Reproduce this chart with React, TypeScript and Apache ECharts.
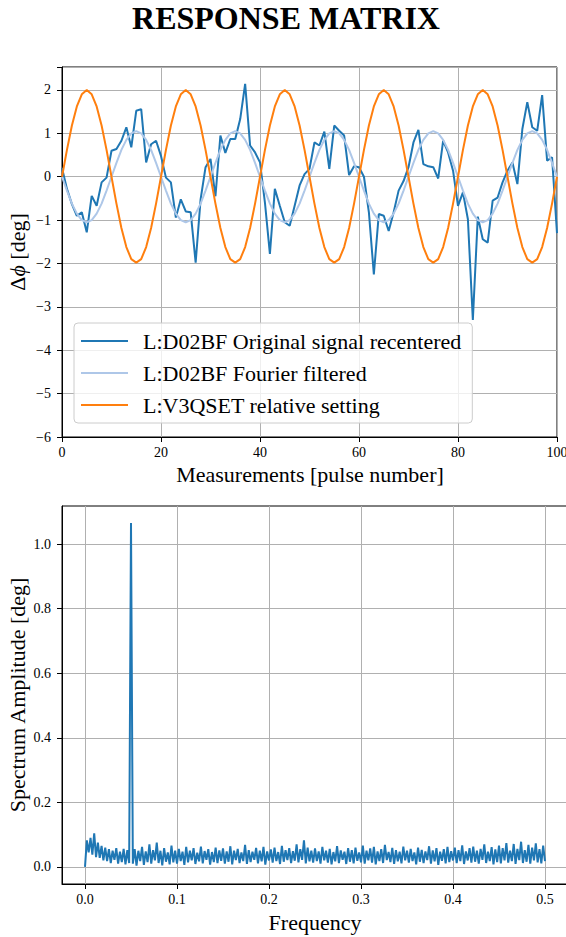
import React, { useEffect, useRef } from "react";
import * as echarts from "echarts";

const FONT = "Liberation Serif";

const TITLE = "RESPONSE MATRIX";
const SERIES_NAMES = [
  "L:D02BF Original signal recentered",
  "L:D02BF Fourier filtered",
  "L:V3QSET relative setting",
];

// Top panel: one value per pulse number 0..100
const ORIGINAL = [
  0.2, -0.28, -0.63, -0.9, -0.82, -1.28, -0.44, -0.67, -0.13, -0.02,
  0.6, 0.64, 0.83, 1.14, 0.68, 1.52, 1.56, 0.33, 0.75, 0.83,
  0.48, -0.02, -0.13, -0.94, -0.52, -0.8, -0.82, -1.98, -0.52, 0.22,
  0.41, -0.45, 0.95, 0.55, 0.87, 0.87, 1.33, 2.14, 0.72, 0.56,
  0.33, -0.6, -1.78, -0.28, -0.67, -1.05, -1.13, -0.67, -0.2, 0.06,
  0.18, 0.79, 0.72, 1.04, 0.18, 1.18, 1.06, 0.95, 0.04, 0.24,
  0.22, 0.0, -0.82, -2.25, -0.86, -0.9, -1.25, -0.82, -0.32, -0.1,
  0.22, 0.79, 1.08, 0.29, 0.24, 0.22, -0.04, 0.83, 0.56, 0.14,
  -0.67, -0.36, -0.98, -3.3, -0.92, -1.44, -1.52, -0.55, -0.48, -0.13,
  0.14, 0.33, -0.17, 1.1, 1.72, 1.14, 1.06, 1.88, 0.37, 0.45,
  -1.3,
];

const FILTERED = [
  0, -0.32, -0.62, -0.85, -1.0, -1.05, -1.0, -0.85, -0.62, -0.32,
  0, 0.32, 0.62, 0.85, 1.0, 1.05, 1.0, 0.85, 0.62, 0.32,
  0, -0.32, -0.62, -0.85, -1.0, -1.05, -1.0, -0.85, -0.62, -0.32,
  0, 0.32, 0.62, 0.85, 1.0, 1.05, 1.0, 0.85, 0.62, 0.32,
  0, -0.32, -0.62, -0.85, -1.0, -1.05, -1.0, -0.85, -0.62, -0.32,
  0, 0.32, 0.62, 0.85, 1.0, 1.05, 1.0, 0.85, 0.62, 0.32,
  0, -0.32, -0.62, -0.85, -1.0, -1.05, -1.0, -0.85, -0.62, -0.32,
  0, 0.32, 0.62, 0.85, 1.0, 1.05, 1.0, 0.85, 0.62, 0.32,
  0, -0.32, -0.62, -0.85, -1.0, -1.05, -1.0, -0.85, -0.62, -0.32,
  0, 0.32, 0.62, 0.85, 1.0, 1.05, 1.0, 0.85, 0.62, 0.32,
  0,
];

const SETTING = [
  0, 0.62, 1.18, 1.62, 1.9, 2.0, 1.9, 1.62, 1.18, 0.62,
  0, -0.62, -1.18, -1.62, -1.9, -1.98, -1.9, -1.62, -1.18, -0.62,
  0, 0.62, 1.18, 1.62, 1.9, 2.0, 1.9, 1.62, 1.18, 0.62,
  0, -0.62, -1.18, -1.62, -1.9, -1.98, -1.9, -1.62, -1.18, -0.62,
  0, 0.62, 1.18, 1.62, 1.9, 2.0, 1.9, 1.62, 1.18, 0.62,
  0, -0.62, -1.18, -1.62, -1.9, -1.98, -1.9, -1.62, -1.18, -0.62,
  0, 0.62, 1.18, 1.62, 1.9, 2.0, 1.9, 1.62, 1.18, 0.62,
  0, -0.62, -1.18, -1.62, -1.9, -1.98, -1.9, -1.62, -1.18, -0.62,
  0, 0.62, 1.18, 1.62, 1.9, 2.0, 1.9, 1.62, 1.18, 0.62,
  0, -0.62, -1.18, -1.62, -1.9, -1.98, -1.9, -1.62, -1.18, -0.62,
  0,
];

// Bottom panel: spectrum amplitude on a frequency grid 0 .. 0.5
const FREQ_STEP = 0.002;
const SPECTRUM = [
  0.0, 0.082, 0.045, 0.09, 0.038, 0.104, 0.03, 0.075, 0.028, 0.065, 0.02, 0.06, 0.018, 0.055, 0.012, 0.05, 0.022, 0.058, 0.01, 0.047, 0.015, 0.056, 0.008, 0.052, 0.012, 1.065,
  0.01, 0.055, 0.004, 0.05, 0.018, 0.062, 0.006, 0.048, 0.015, 0.07, 0.01, 0.052, 0.02, 0.075, 0.012, 0.05, 0.005, 0.058, 0.016, 0.045, 0.008, 0.066, 0.014, 0.05, 0.01,
  0.056, 0.018, 0.047, 0.006, 0.062, 0.014, 0.05, 0.02, 0.058, 0.009, 0.044, 0.017, 0.063, 0.011, 0.049, 0.022, 0.055, 0.007, 0.046, 0.015, 0.06, 0.012, 0.051, 0.019, 0.057,
  0.01, 0.048, 0.016, 0.064, 0.008, 0.05, 0.021, 0.056, 0.012, 0.045, 0.018, 0.068, 0.009, 0.052, 0.015, 0.047, 0.022, 0.059, 0.011, 0.05, 0.017, 0.062, 0.007, 0.048, 0.02,
  0.054, 0.013, 0.06, 0.018, 0.046, 0.009, 0.065, 0.016, 0.052, 0.021, 0.058, 0.012, 0.049, 0.019, 0.07, 0.014, 0.055, 0.022, 0.082, 0.011, 0.06, 0.017, 0.05, 0.013, 0.057,
  0.018, 0.048, 0.01, 0.062, 0.02, 0.05, 0.013, 0.056, 0.008, 0.046, 0.017, 0.064, 0.012, 0.051, 0.022, 0.047, 0.009, 0.058, 0.016, 0.052, 0.011, 0.06, 0.019, 0.045, 0.014,
  0.066, 0.01, 0.05, 0.02, 0.057, 0.013, 0.062, 0.008, 0.048, 0.018, 0.055, 0.012, 0.068, 0.021, 0.046, 0.015, 0.059, 0.009, 0.052, 0.017, 0.047, 0.011, 0.063, 0.02, 0.05,
  0.013, 0.056, 0.018, 0.045, 0.008, 0.06, 0.016, 0.053, 0.012, 0.048, 0.021, 0.064, 0.01, 0.051, 0.017, 0.058, 0.006, 0.047, 0.019, 0.055, 0.011, 0.062, 0.015, 0.049, 0.02,
  0.06, 0.012, 0.052, 0.018, 0.067, 0.009, 0.048, 0.02, 0.058, 0.013, 0.063, 0.016, 0.05, 0.01, 0.056, 0.022, 0.07, 0.012, 0.047, 0.018, 0.061, 0.008, 0.054, 0.015, 0.066,
  0.011, 0.058, 0.02, 0.074, 0.013, 0.05, 0.018, 0.071, 0.009, 0.056, 0.021, 0.078, 0.012, 0.052, 0.016, 0.068, 0.01, 0.06, 0.02, 0.073, 0.014, 0.055, 0.011, 0.066, 0.018,
];

const FREQ_TICKS = [0, 0.1, 0.2, 0.3, 0.4, 0.5];
const AMP_TICKS = [0, 0.2, 0.4, 0.6, 0.8, 1.0];

const COLORS = ["#1f77b4", "#aec7e8", "#ff7f0e"];

const minus = (s: string) => s.replace("-", "\u2212");

export default function App() {
  const ref = useRef<HTMLDivElement>(null);

  useEffect(() => {
    if (!ref.current) return;
    const chart = echarts.init(ref.current, null, { renderer: "svg" });

    const pair = (arr: number[]) => arr.map((v, i) => [i, v]);
    const specData = SPECTRUM.map((v, i) => [i * FREQ_STEP, v]);

    const labelBase = { color: "#000", fontSize: 14, fontFamily: FONT };
    const tick = { show: true, length: 5, inside: false, lineStyle: { color: "#000", width: 1 } };
    const axisLine = { show: true, onZero: false, lineStyle: { color: "#000", width: 1 } };
    const split = { show: true, lineStyle: { color: "#b0b0b0", width: 1 } };

    const intFmt = (v: number) =>
      Math.abs(v - Math.round(v)) < 1e-9 ? minus(String(Math.round(v))) : "";
    const tenthFmt = (v: number) => {
      const r = Math.round(v * 10);
      return Math.abs(v * 10 - r) < 1e-6 ? minus((r / 10).toFixed(1)) : "";
    };

    const option: any = {
      animation: false,
      textStyle: { fontFamily: FONT },
      grid: [
        { left: 62, top: 67, width: 495, height: 370, show: true, borderColor: "#000", borderWidth: 1, backgroundColor: "transparent", containLabel: false, outerBoundsMode: "none" },
        { left: 62, top: 506, width: 506, height: 378, show: true, borderColor: "#000", borderWidth: 1, backgroundColor: "transparent", containLabel: false, outerBoundsMode: "none" },
      ],
      xAxis: [
        {
          type: "value", gridIndex: 0, min: 0, max: 100, interval: 20,
          axisLine, axisTick: tick, splitLine: split,
          axisLabel: { ...labelBase, margin: 8, formatter: intFmt },
        },
        {
          type: "value", gridIndex: 1, min: -0.025, max: 0.525, splitNumber: 5,
          axisLine,
          axisTick: { ...tick, customValues: FREQ_TICKS },
          splitLine: split,
          axisLabel: { ...labelBase, margin: 8, formatter: tenthFmt, customValues: FREQ_TICKS },
        },
      ],
      yAxis: [
        {
          type: "value", gridIndex: 0, min: -6, max: 2.53, interval: 1,
          axisLine, axisTick: tick, splitLine: split,
          axisLabel: { ...labelBase, margin: 11, formatter: intFmt },
        },
        {
          type: "value", gridIndex: 1, min: -0.053, max: 1.118, splitNumber: 5,
          axisLine,
          axisTick: { ...tick, customValues: AMP_TICKS },
          splitLine: split,
          axisLabel: { ...labelBase, margin: 11, formatter: tenthFmt, customValues: AMP_TICKS },
        },
      ],
      legend: {
        data: SERIES_NAMES.map((n) => ({ name: n, icon: "rect" })),
        orient: "vertical",
        left: 74,
        top: 323,
        backgroundColor: "rgba(255,255,255,0.8)",
        borderColor: "#cccccc",
        borderWidth: 1,
        borderRadius: 4,
        padding: [7, 11, 7, 7],
        itemWidth: 47,
        itemHeight: 2,
        itemGap: 10,
        textStyle: { fontSize: 22, fontFamily: FONT, color: "#000", padding: [0, 0, 0, 10] },
      },
      series: [
        {
          name: SERIES_NAMES[0], type: "line", xAxisIndex: 0, yAxisIndex: 0,
          data: pair(ORIGINAL), symbol: "none", color: COLORS[0],
          lineStyle: { color: COLORS[0], width: 2 }, z: 2,
        },
        {
          name: SERIES_NAMES[1], type: "line", xAxisIndex: 0, yAxisIndex: 0,
          data: pair(FILTERED), symbol: "none", color: COLORS[1],
          lineStyle: { color: COLORS[1], width: 2 }, z: 3,
        },
        {
          name: SERIES_NAMES[2], type: "line", xAxisIndex: 0, yAxisIndex: 0,
          data: pair(SETTING), symbol: "none", color: COLORS[2],
          lineStyle: { color: COLORS[2], width: 2 }, z: 4,
        },
        {
          name: "spectrum", type: "line", xAxisIndex: 1, yAxisIndex: 1,
          data: specData, symbol: "none", color: COLORS[0],
          lineStyle: { color: COLORS[0], width: 2 }, z: 2,
        },
      ],
      graphic: [
        {
          type: "text", x: 286, y: 18,
          style: { text: TITLE, fontSize: 32, fontWeight: "bold", fontFamily: FONT, fill: "#000", align: "center", verticalAlign: "middle" },
        },
        {
          type: "text", x: 310, y: 474,
          style: { text: "Measurements [pulse number]", fontSize: 22, fontFamily: FONT, fill: "#000", align: "center", verticalAlign: "middle" },
        },
        {
          type: "text", x: 17, y: 252, rotation: Math.PI / 2,
          style: {
            text: "{a|\u0394}{b|\u03d5}{a| [deg]}",
            fontSize: 22, fontFamily: FONT,
            align: "center", verticalAlign: "middle", fill: "#000",
            rich: {
              a: { fontSize: 22, fontFamily: FONT, fill: "#000" },
              b: { fontSize: 22, fontFamily: FONT, fontStyle: "italic", fill: "#000" },
            },
          },
        },
        {
          type: "text", x: 17, y: 695, rotation: Math.PI / 2,
          style: { text: "Spectrum Amplitude [deg]", fontSize: 22, fontFamily: FONT, fill: "#000", align: "center", verticalAlign: "middle" },
        },
        {
          type: "text", x: 315, y: 922,
          style: { text: "Frequency", fontSize: 22, fontFamily: FONT, fill: "#000", align: "center", verticalAlign: "middle" },
        },
      ],
    };

    chart.setOption(option);
    return () => chart.dispose();
  }, []);

  return (
    <div
      ref={ref}
      style={{ position: "fixed", left: 0, top: 0, width: 566, height: 937, background: "#fff" }}
    />
  );
}
